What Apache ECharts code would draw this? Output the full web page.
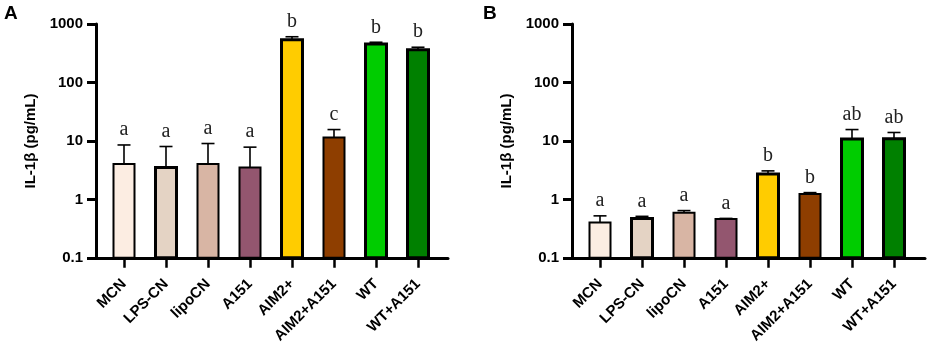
<!DOCTYPE html>
<html>
<head>
<meta charset="utf-8">
<script src="https://cdn.jsdelivr.net/npm/echarts@6/dist/echarts.min.js"></script>
<style>
  html, body { margin: 0; padding: 0; background: #fff; }
  #chart { width: 927px; height: 346px; }
</style>
</head>
<body>
<div id="chart"></div>
<script>
// data
const categories = ['MCN', 'LPS-CN', 'lipoCN', 'A151', 'AIM2+', 'AIM2+A151', 'WT', 'WT+A151'];
const yTicks = [0.1, 1, 10, 100, 1000];

const meanA = [4.0, 3.5, 4.0, 3.5, 540, 11.4, 455, 364];
const errA = [8.5, 8.0, 9.0, 7.8, 605, 15.6, 487, 400];
const lettersA = ['a', 'a', 'a', 'a', 'b', 'c', 'b', 'b'];

const meanB = [0.40, 0.47, 0.59, 0.46, 2.72, 1.23, 10.8, 10.9];
const errB = [0.52, 0.51, 0.64, 0.47, 3.06, 1.30, 15.6, 13.9];
const lettersB = ['a', 'a', 'a', 'a', 'b', 'b', 'ab', 'ab'];

// styling
const fills = ['#fcede2', '#e4d3c4', '#d8b5a4', '#93566f', '#ffcc00', '#8e3e00', '#00cc00', '#008000'];
const borders = [2, 3, 2, 2, 3, 2, 3, 3];
const barW = 21;
const sans = 'Liberation Sans';

const chart = echarts.init(document.getElementById('chart'));

function renderBar(params, api) {
  const i = api.value(0);
  const base = api.coord([i, yTicks[0]]);
  const top = api.coord([i, api.value(1)]);
  const err = api.coord([i, api.value(2)]);
  const letters = params.seriesIndex === 0 ? lettersA : lettersB;
  const bw = borders[i];
  return {
    type: 'group',
    children: [
      { type: 'line', shape: { x1: top[0], y1: top[1], x2: top[0], y2: err[1] },
        style: { stroke: '#000', lineWidth: 1.6 } },
      { type: 'line', shape: { x1: top[0] - 6.5, y1: err[1], x2: top[0] + 6.5, y2: err[1] },
        style: { stroke: '#000', lineWidth: 1.6 } },
      { type: 'rect', shape: { x: top[0] - barW / 2, y: top[1], width: barW, height: base[1] - top[1] },
        style: { fill: fills[i], stroke: '#000', lineWidth: bw } },
      { type: 'text', x: top[0], y: err[1] - 5,
        style: { text: letters[i], fill: '#222', font: '20px "Liberation Serif"',
                 align: 'center', verticalAlign: 'bottom' } }
    ]
  };
}

function tickText(v) {
  return String(+Number(v).toPrecision(3));
}

function axesGrid(g, name) {
  return {
    x: { gridIndex: g, type: 'value', min: 0, max: 1,
         axisLine: { show: true, lineStyle: { color: '#000', width: 3 } },
         axisTick: { show: false }, axisLabel: { show: false }, splitLine: { show: false } },
    y: { gridIndex: g, type: 'log', logBase: 10, min: yTicks[0], max: yTicks[yTicks.length - 1],
         name: name, nameLocation: 'middle', nameGap: 58,
         nameTextStyle: { fontFamily: sans, fontWeight: 'bold', fontSize: 15, color: '#000' },
         axisLine: { show: true, lineStyle: { color: '#000', width: 3 } },
         axisTick: { show: true, length: 9, lineStyle: { color: '#000', width: 3 } },
         axisLabel: { margin: 13, formatter: tickText, fontFamily: sans, fontWeight: 'bold', fontSize: 15, color: '#000' },
         minorTick: { show: false }, splitLine: { show: false } }
  };
}

function barsGrid(g) {
  return {
    x: { gridIndex: g, type: 'category', data: categories,
         axisLine: { show: false },
         axisTick: { show: true, alignWithLabel: true, length: 10, lineStyle: { color: '#000', width: 2.5 } },
         axisLabel: { rotate: 45, margin: 24, interval: 0, fontFamily: sans, fontWeight: 'bold', fontSize: 15, color: '#000' },
         splitLine: { show: false } },
    y: { gridIndex: g, type: 'log', logBase: 10, min: yTicks[0], max: yTicks[yTicks.length - 1], show: false }
  };
}

const ax0 = axesGrid(0, 'IL-1β (pg/mL)');
const bx1 = barsGrid(1);
const ax2 = axesGrid(2, 'IL-1β (pg/mL)');
const bx3 = barsGrid(3);

chart.setOption({
  animation: false,
  title: [
    { text: 'A', left: 4, top: 4, padding: 0, textStyle: { fontFamily: sans, fontWeight: 'bold', fontSize: 19, color: '#000' } },
    { text: 'B', left: 483, top: 4, padding: 0, textStyle: { fontFamily: sans, fontWeight: 'bold', fontSize: 19, color: '#000' } }
  ],
  grid: [
    { left: 96, top: 24, width: 352, height: 234 },
    { left: 103, top: 24, width: 336, height: 234 },
    { left: 572, top: 24, width: 353, height: 234 },
    { left: 579, top: 24, width: 336, height: 234 }
  ],
  xAxis: [ax0.x, bx1.x, ax2.x, bx3.x],
  yAxis: [ax0.y, bx1.y, ax2.y, bx3.y],
  series: [
    { type: 'custom', xAxisIndex: 1, yAxisIndex: 1, renderItem: renderBar,
      encode: { x: 0, y: [1, 2] },
      data: categories.map((c, i) => [i, meanA[i], errA[i]]) },
    { type: 'custom', xAxisIndex: 3, yAxisIndex: 3, renderItem: renderBar,
      encode: { x: 0, y: [1, 2] },
      data: categories.map((c, i) => [i, meanB[i], errB[i]]) }
  ]
});
</script>
</body>
</html>
